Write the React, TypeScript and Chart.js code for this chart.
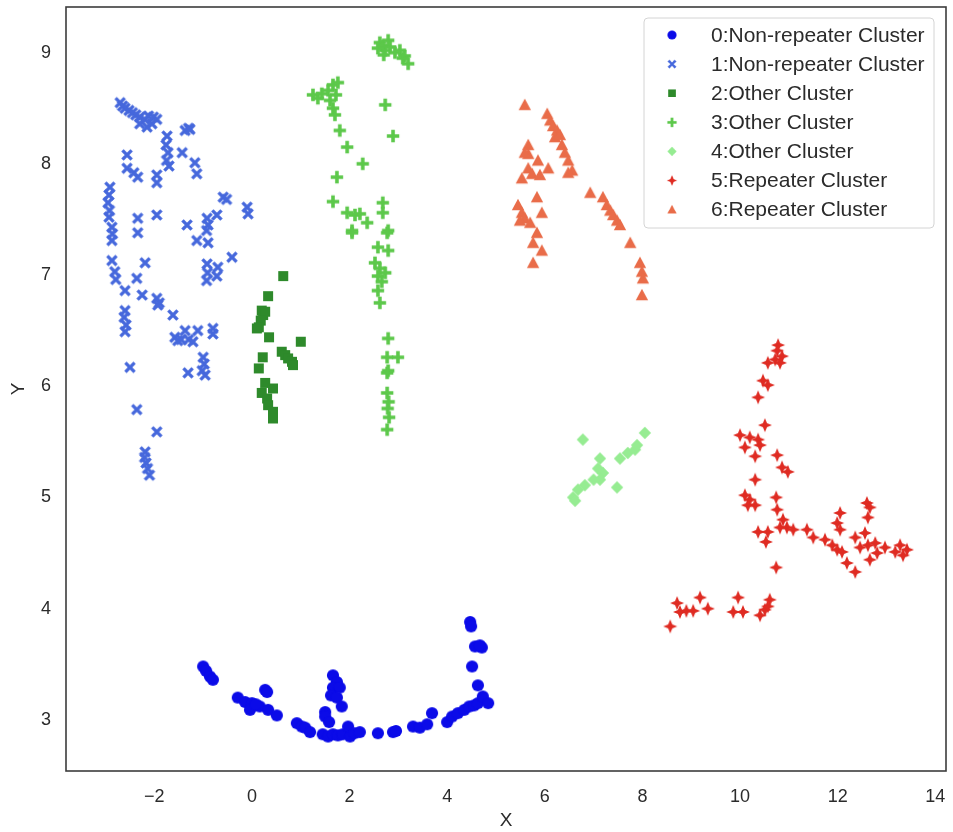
import React, { useEffect, useRef } from "react";
import { Chart, registerables } from "chart.js";

Chart.register(...registerables);

const seriesLabels = [
  "0:Non-repeater Cluster",
  "1:Non-repeater Cluster",
  "2:Other Cluster",
  "3:Other Cluster",
  "4:Other Cluster",
  "5:Repeater Cluster",
  "6:Repeater Cluster",
];
const seriesColors = ["#0b0be8", "#4668dc", "#2e8a2b", "#5cc84a", "#96ec92", "#df2b22", "#e96c49"];
const seriesShapes = ["circle", "x", "square", "plus", "diamond", "star4", "triangle"];

const xTickValues = [-2, 0, 2, 4, 6, 8, 10, 12, 14];
const yTickValues = [3, 4, 5, 6, 7, 8, 9];

const cluster0: number[][] = [
  [-1.0, 3.48], [-0.94, 3.44], [-0.86, 3.39], [-0.8, 3.36],
  [-0.29, 3.2], [-0.14, 3.16], [0.0, 3.15], [-0.04, 3.09], [0.16, 3.12], [0.08, 3.14],
  [0.27, 3.27], [0.31, 3.25], [0.33, 3.09], [0.51, 3.04],
  [0.92, 2.97], [1.02, 2.94], [1.09, 2.93], [1.19, 2.89],
  [1.66, 3.4], [1.74, 3.34], [1.66, 3.29], [1.8, 3.29], [1.62, 3.22], [1.74, 3.2], [1.84, 3.12],
  [1.5, 3.07], [1.5, 3.03], [1.58, 2.98],
  [1.45, 2.87], [1.56, 2.85], [1.66, 2.87], [1.76, 2.86], [1.86, 2.87], [1.97, 2.94], [2.01, 2.85], [2.1, 2.88], [2.21, 2.89],
  [2.58, 2.88], [2.89, 2.89], [2.95, 2.9],
  [3.3, 2.94], [3.44, 2.93], [3.59, 2.96], [3.69, 3.06],
  [4.0, 2.98], [4.1, 3.03], [4.22, 3.06], [4.35, 3.09], [4.45, 3.12], [4.55, 3.13], [4.63, 3.15], [4.73, 3.21], [4.84, 3.15],
  [4.47, 3.88], [4.49, 3.84], [4.57, 3.66], [4.71, 3.65], [4.67, 3.67], [4.51, 3.48], [4.63, 3.31],
];

const cluster1: number[][] = [
  [-2.7, 8.55], [-2.65, 8.52], [-2.6, 8.5], [-2.52, 8.48], [-2.45, 8.46], [-2.38, 8.44], [-2.3, 8.42],
  [-2.2, 8.4], [-2.12, 8.43], [-2.02, 8.42], [-1.95, 8.4], [-2.05, 8.36], [-2.3, 8.36], [-2.15, 8.33],
  [-1.37, 8.3], [-1.3, 8.32], [-1.27, 8.31],
  [-1.74, 8.25], [-1.76, 8.17], [-1.72, 8.1], [-1.75, 8.03], [-1.7, 7.98],
  [-2.56, 8.08], [-1.43, 8.1], [-1.17, 8.01], [-1.13, 7.91],
  [-2.56, 7.96], [-2.42, 7.92], [-2.34, 7.88], [-1.95, 7.9], [-1.95, 7.83],
  [-2.91, 7.79], [-2.93, 7.72], [-2.95, 7.65], [-2.92, 7.58], [-2.93, 7.52],
  [-0.59, 7.7], [-0.52, 7.68], [-0.1, 7.61], [-0.08, 7.55],
  [-2.34, 7.51], [-2.34, 7.38], [-1.95, 7.54],
  [-2.87, 7.43], [-2.86, 7.37], [-2.87, 7.31],
  [-1.33, 7.45], [-0.92, 7.51], [-0.9, 7.45], [-0.93, 7.4],
  [-1.13, 7.31], [-0.9, 7.29], [-0.72, 7.54], [-0.41, 7.16],
  [-2.87, 7.13], [-2.19, 7.11], [-2.81, 7.03], [-2.79, 6.96], [-2.36, 6.97],
  [-0.92, 7.1], [-0.91, 7.02], [-0.93, 6.95], [-0.7, 7.07], [-0.72, 6.99],
  [-2.6, 6.86], [-2.25, 6.82], [-1.95, 6.79], [-1.9, 6.75], [-1.93, 6.73],
  [-2.6, 6.68], [-2.62, 6.62], [-2.58, 6.55], [-2.6, 6.49],
  [-1.62, 6.64], [-1.58, 6.44], [-1.52, 6.41], [-1.45, 6.42], [-1.37, 6.5], [-1.3, 6.42],
  [-1.21, 6.4], [-1.11, 6.5], [-0.8, 6.52], [-0.8, 6.47],
  [-1.0, 6.26], [-0.98, 6.2], [-1.02, 6.14], [-0.96, 6.1], [-1.31, 6.12], [-2.5, 6.17],
  [-2.36, 5.79], [-1.95, 5.59],
  [-2.19, 5.41], [-2.2, 5.36], [-2.17, 5.31], [-2.14, 5.26], [-2.1, 5.2],
];

const cluster2: number[][] = [
  [0.64, 6.99], [0.33, 6.81],
  [0.2, 6.68], [0.23, 6.64], [0.27, 6.67], [0.18, 6.59], [0.1, 6.52], [0.14, 6.53],
  [0.35, 6.44], [1.0, 6.4],
  [0.61, 6.31], [0.68, 6.28], [0.74, 6.25], [0.82, 6.22], [0.84, 6.19],
  [0.22, 6.26], [0.14, 6.16], [0.27, 6.03],
  [0.2, 5.94], [0.31, 5.89], [0.43, 5.98],
  [0.33, 5.83], [0.43, 5.77], [0.43, 5.71],
];

const cluster3: number[][] = [
  [2.62, 9.09], [2.68, 9.06], [2.79, 9.11], [2.73, 9.02], [2.83, 9.05], [2.93, 9.0], [3.03, 9.02],
  [3.13, 8.97], [3.2, 8.9], [3.09, 8.95], [2.7, 8.98], [2.58, 9.04],
  [1.25, 8.62], [1.35, 8.59], [1.43, 8.63], [1.56, 8.66], [1.66, 8.71], [1.76, 8.73], [1.72, 8.62],
  [1.6, 8.57], [1.66, 8.5], [1.7, 8.44],
  [2.73, 8.53], [1.8, 8.3], [2.89, 8.25], [1.95, 8.15], [2.27, 8.0], [1.74, 7.88], [1.66, 7.66],
  [1.95, 7.56], [2.11, 7.54], [2.21, 7.55], [2.36, 7.47], [2.05, 7.4],
  [2.68, 7.65], [2.68, 7.56], [2.79, 7.4],
  [2.05, 7.38], [2.77, 7.38], [2.58, 7.25], [2.79, 7.22],
  [2.52, 7.11], [2.62, 7.06], [2.73, 7.02], [2.58, 6.99], [2.66, 6.94],
  [2.58, 6.86], [2.62, 6.75],
  [2.79, 6.43], [2.77, 6.26], [2.99, 6.26], [2.79, 6.14], [2.77, 6.12],
  [2.77, 5.94], [2.8, 5.86], [2.78, 5.8], [2.81, 5.72], [2.77, 5.61],
];

const cluster4: number[][] = [
  [6.78, 5.52], [8.05, 5.58],
  [7.54, 5.35], [7.7, 5.4], [7.85, 5.43], [7.89, 5.47],
  [7.13, 5.35], [7.09, 5.26], [7.19, 5.22], [7.13, 5.16], [7.48, 5.09],
  [7.0, 5.16], [6.82, 5.11], [6.68, 5.07], [6.58, 5.0], [6.62, 4.97],
];

const cluster5: number[][] = [
  [10.78, 6.37], [10.76, 6.32], [10.86, 6.27], [10.72, 6.24], [10.82, 6.21], [10.57, 6.21],
  [10.47, 6.05], [10.57, 6.01], [10.37, 5.9], [10.51, 5.65],
  [10.0, 5.56], [10.2, 5.54], [10.37, 5.52], [10.1, 5.45], [10.41, 5.47],
  [10.31, 5.37], [10.76, 5.38], [10.86, 5.27], [10.98, 5.23],
  [10.31, 5.16], [10.1, 5.02], [10.2, 4.98], [10.31, 4.93], [10.16, 4.93], [10.74, 5.0],
  [10.76, 4.89], [10.88, 4.8], [10.96, 4.73], [10.82, 4.73],
  [10.37, 4.69], [10.57, 4.69], [10.53, 4.6],
  [11.09, 4.71], [11.37, 4.71],
  [11.5, 4.64], [11.74, 4.62], [11.89, 4.57], [11.99, 4.53],
  [12.05, 4.86], [11.99, 4.77], [12.05, 4.71],
  [12.6, 4.95], [12.66, 4.91], [12.62, 4.82],
  [12.36, 4.64], [12.56, 4.68],
  [12.46, 4.55], [12.62, 4.57], [12.77, 4.59], [12.81, 4.5],
  [12.09, 4.51], [12.19, 4.41], [12.36, 4.33], [12.66, 4.44],
  [12.97, 4.55], [13.18, 4.51], [13.34, 4.48], [13.28, 4.57], [13.42, 4.53],
  [10.74, 4.37],
  [8.57, 3.84], [8.71, 4.05], [8.77, 3.97], [8.9, 3.98], [9.04, 3.98], [9.18, 4.1], [9.34, 4.0],
  [9.96, 4.1], [9.86, 3.97], [10.06, 3.97],
  [10.41, 3.94], [10.51, 3.99], [10.61, 4.08], [10.57, 4.02],
];

const cluster6: number[][] = [
  [5.59, 8.53],
  [6.05, 8.45], [6.11, 8.39], [6.17, 8.34], [6.25, 8.3], [6.21, 8.24], [6.31, 8.26],
  [5.66, 8.17], [5.66, 8.09], [5.59, 8.1],
  [6.35, 8.17], [6.41, 8.1], [6.48, 8.03], [6.56, 7.94], [6.48, 7.92],
  [5.86, 8.03], [5.66, 7.96], [5.74, 7.91], [5.9, 7.9], [6.07, 7.96], [5.53, 7.87],
  [5.84, 7.7],
  [5.45, 7.63], [5.53, 7.56], [5.59, 7.51], [5.49, 7.49], [5.94, 7.56],
  [5.7, 7.47], [5.84, 7.38], [5.76, 7.29], [5.94, 7.22], [5.76, 7.11],
  [6.93, 7.74], [7.19, 7.7],
  [7.27, 7.63], [7.34, 7.58], [7.4, 7.54], [7.48, 7.49], [7.54, 7.45],
  [7.75, 7.29],
  [7.95, 7.11], [7.99, 7.03], [8.01, 6.97], [7.99, 6.82],
];

const clusters = [cluster0, cluster1, cluster2, cluster3, cluster4, cluster5, cluster6];

function makeMarker(shape: string, color: string): HTMLCanvasElement {
  const S = 18;
  const c = document.createElement("canvas");
  c.width = S;
  c.height = S;
  const ctx = c.getContext("2d")!;
  ctx.translate(S / 2, S / 2);
  ctx.fillStyle = color;
  ctx.strokeStyle = color;
  ctx.beginPath();
  if (shape === "circle") {
    ctx.arc(0, 0, 6.1, 0, Math.PI * 2);
    ctx.fill();
  } else if (shape === "x") {
    ctx.lineWidth = 3.4;
    ctx.moveTo(-4.6, -4.6);
    ctx.lineTo(4.6, 4.6);
    ctx.moveTo(4.6, -4.6);
    ctx.lineTo(-4.6, 4.6);
    ctx.stroke();
  } else if (shape === "square") {
    ctx.fillRect(-5, -5, 10, 10);
  } else if (shape === "plus") {
    ctx.lineWidth = 3.6;
    ctx.moveTo(-6.2, 0);
    ctx.lineTo(6.2, 0);
    ctx.moveTo(0, -6.2);
    ctx.lineTo(0, 6.2);
    ctx.stroke();
  } else if (shape === "diamond") {
    ctx.moveTo(0, -6.2);
    ctx.lineTo(6.2, 0);
    ctx.lineTo(0, 6.2);
    ctx.lineTo(-6.2, 0);
    ctx.closePath();
    ctx.fill();
  } else if (shape === "star4") {
    const R = 7;
    const r = 2.9;
    for (let i = 0; i < 8; i++) {
      const a = -Math.PI / 2 + (i * Math.PI) / 4;
      const rad = i % 2 === 0 ? R : r;
      const px = Math.cos(a) * rad;
      const py = Math.sin(a) * rad;
      if (i === 0) ctx.moveTo(px, py);
      else ctx.lineTo(px, py);
    }
    ctx.closePath();
    ctx.fill();
  } else if (shape === "triangle") {
    ctx.moveTo(0, -6.2);
    ctx.lineTo(6.2, 5.2);
    ctx.lineTo(-6.2, 5.2);
    ctx.closePath();
    ctx.fill();
  }
  return c;
}

const FONT = "'Liberation Sans', Arial, Helvetica, sans-serif";
const TEXT_COLOR = "#2b2b2b";

export default function App() {
  const ref = useRef<HTMLCanvasElement | null>(null);

  useEffect(() => {
    document.body.style.margin = "0";
    const canvas = ref.current;
    if (!canvas) return;
    const markers = seriesShapes.map((s, i) => makeMarker(s, seriesColors[i]));

    const frame = {
      id: "frameAndLegend",
      afterDraw(chart: any) {
        const { ctx, chartArea } = chart;
        ctx.save();
        ctx.strokeStyle = "#3c3c3c";
        ctx.lineWidth = 1.6;
        ctx.strokeRect(chartArea.left, chartArea.top, chartArea.right - chartArea.left, chartArea.bottom - chartArea.top);

        // legend box
        const bx = chartArea.right - 302;
        const by = chartArea.top + 11;
        const bw = 290;
        const bh = 210;
        ctx.beginPath();
        const rr = 4;
        ctx.moveTo(bx + rr, by);
        ctx.lineTo(bx + bw - rr, by);
        ctx.quadraticCurveTo(bx + bw, by, bx + bw, by + rr);
        ctx.lineTo(bx + bw, by + bh - rr);
        ctx.quadraticCurveTo(bx + bw, by + bh, bx + bw - rr, by + bh);
        ctx.lineTo(bx + rr, by + bh);
        ctx.quadraticCurveTo(bx, by + bh, bx, by + bh - rr);
        ctx.lineTo(bx, by + rr);
        ctx.quadraticCurveTo(bx, by, bx + rr, by);
        ctx.closePath();
        ctx.fillStyle = "rgba(255,255,255,0.85)";
        ctx.fill();
        ctx.strokeStyle = "#d4d4d4";
        ctx.lineWidth = 1;
        ctx.stroke();

        ctx.font = `21px ${FONT}`;
        ctx.fillStyle = TEXT_COLOR;
        ctx.textBaseline = "middle";
        ctx.textAlign = "left";
        chart.data.datasets.forEach((ds: any, i: number) => {
          const cy = by + 17 + i * 29.1;
          const m = markers[i];
          ctx.save();
          ctx.translate(bx + 28, cy);
          ctx.scale(0.75, 0.75);
          ctx.drawImage(m, -m.width / 2, -m.height / 2);
          ctx.restore();
          ctx.fillStyle = TEXT_COLOR;
          ctx.fillText(ds.label, bx + 67, cy + 1);
        });
        ctx.restore();
      },
    };

    const fmt = (v: number) => (v < 0 ? "\u2212" + Math.abs(v) : String(v));

    const chart = new Chart(canvas, {
      type: "scatter",
      data: {
        datasets: clusters.map((pts, i) => ({
          label: seriesLabels[i],
          data: pts.map((p) => ({ x: p[0], y: p[1] })),
          pointStyle: markers[i] as any,
          pointRadius: 6,
          backgroundColor: seriesColors[i],
          borderColor: seriesColors[i],
        })),
      },
      options: {
        animation: false,
        responsive: false,
        maintainAspectRatio: false,
        events: [],
        layout: { padding: { top: 7, right: 7, left: 0, bottom: 0 } },
        plugins: {
          legend: { display: false },
          tooltip: { enabled: false },
        },
        scales: {
          x: {
            type: "linear",
            min: -3.81,
            max: 14.22,
            afterFit: (s: any) => {
              s.height = 61;
              s.paddingLeft = 0;
              s.paddingRight = 0;
            },
            afterBuildTicks: (s: any) => {
              s.ticks = xTickValues.map((v) => ({ value: v }));
            },
            grid: { display: false, drawTicks: false },
            border: { display: false },
            ticks: {
              padding: 15,
              color: TEXT_COLOR,
              font: { size: 18, family: FONT },
              callback: (v: any) => fmt(Number(v)),
              maxRotation: 0,
            },
            title: {
              display: true,
              text: "X",
              color: TEXT_COLOR,
              font: { size: 19, family: FONT },
              padding: { top: 0, bottom: 0 },
            },
          },
          y: {
            type: "linear",
            min: 2.54,
            max: 9.41,
            afterFit: (s: any) => {
              s.width = 66;
              s.paddingTop = 0;
              s.paddingBottom = 0;
            },
            afterBuildTicks: (s: any) => {
              s.ticks = yTickValues.map((v) => ({ value: v }));
            },
            grid: { display: false, drawTicks: false },
            border: { display: false },
            ticks: {
              padding: 15,
              color: TEXT_COLOR,
              font: { size: 18, family: FONT },
              callback: (v: any) => fmt(Number(v)),
            },
            title: {
              display: true,
              text: "Y",
              color: TEXT_COLOR,
              font: { size: 19, family: FONT },
              padding: { top: 7, bottom: 0 },
            },
          },
        },
      },
      plugins: [frame],
    });

    return () => chart.destroy();
  }, []);

  return (
    <div style={{ width: 953, height: 832, background: "#fff" }}>
      <canvas ref={ref} width={953} height={832} style={{ display: "block", width: 953, height: 832 }} />
    </div>
  );
}
